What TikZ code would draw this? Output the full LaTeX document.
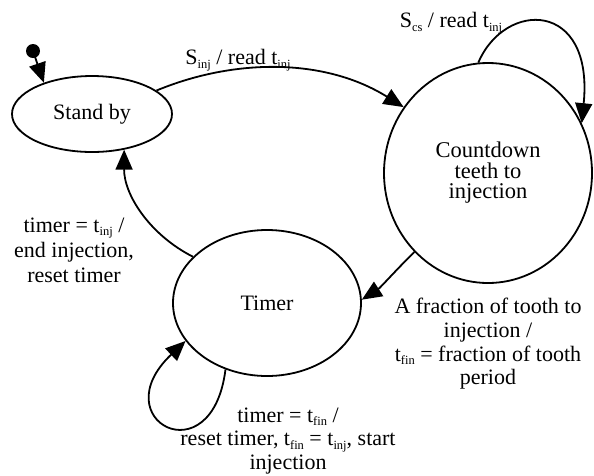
\documentclass[tikz,border=0pt]{standalone}
\usepackage{fontspec}
\setmainfont{Liberation Serif}
\usetikzlibrary{shapes.geometric,arrows.meta}
% small lowered subscript in text mode
\newcommand\lowidx[1]{\raisebox{-0.35ex}{\fontsize{12.5}{12.5}\selectfont #1}}
\begin{document}
\begin{tikzpicture}[x=1pt,y=-1pt,
  state/.style={ellipse,draw,line width=1.8pt,inner sep=0pt,align=center},
  trans/.style={line width=1.8pt,-{Triangle[length=20pt,width=17pt]}},
  lbl/.style={align=center,inner sep=0pt},
  every node/.append style={font=\fontsize{22}{24.5}\selectfont}]
\useasboundingbox (0,0) rectangle (594,475);
\fill[white] (0,0) rectangle (594,475);

% states
\node[state,minimum width=160pt,minimum height=76pt] (sb) at (92,114) {Stand by};
\node[state,minimum width=208pt,minimum height=220pt,
      font=\fontsize{22.5}{20.5}\selectfont] (cd) at (488,173) {Countdown\\teeth to\\injection};
\node[state,minimum width=188pt,minimum height=146pt] (tm) at (267,303) {Timer};

% initial pseudo-state
\fill (33,51) circle (7pt) coordinate (init);
\draw[trans] (init) -- (sb.147);

% transitions
\draw[trans] (sb.20) .. controls (235,58) and (325,58) .. (cd.142);
\draw[trans] (cd.95) .. controls (505,0) and (594,0) .. (cd.28);
\draw[trans] (cd.227) .. controls (398,268) and (380,288) .. (tm.2);
\draw[trans] (tm.148) .. controls (150,235) and (124,195) .. (sb.-48);
\draw[trans] (tm.-122) .. controls (212,478) and (102,420) .. (tm.-155);

% transition labels
\node[lbl] (l1) at (238,60) {S\lowidx{inj} / read t\lowidx{inj}};
\node[lbl] (l2) at (451,23) {S\lowidx{cs} / read t\lowidx{inj}};
\node[lbl,font=\fontsize{22}{23.7}\selectfont] (l3) at (488,344) {A fraction of tooth to\\injection /\\t\lowidx{fin} = fraction of tooth\\period};
\node[lbl,font=\fontsize{22}{25}\selectfont] (l4) at (74,250) {timer = t\lowidx{inj} /\\end injection,\\reset timer};
\node[lbl,font=\fontsize{22}{23.7}\selectfont] (l5) at (288,441) {timer = t\lowidx{fin} /\\reset timer, t\lowidx{fin} = t\lowidx{inj}, start\\injection};
\end{tikzpicture}
\end{document}
